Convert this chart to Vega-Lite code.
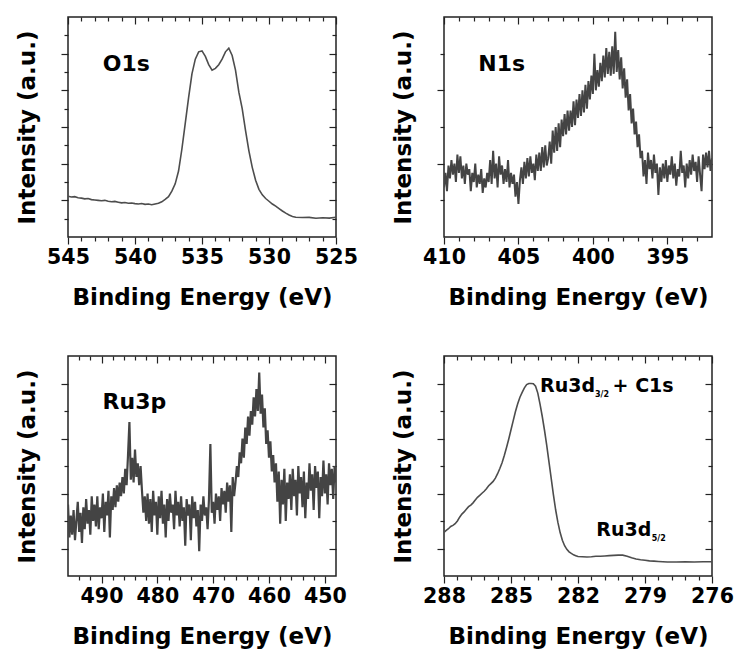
{
"$schema": "https://vega.github.io/schema/vega-lite/v6.json",
"background": "white",
"padding": {"left": 15, "top": 15, "right": 0, "bottom": 5},
"columns": 2,
"spacing": {"row": 119, "column": 108},
"bounds": "flush",
"config": {
  "font": "DejaVu Sans",
  "view": {"stroke": "#222", "strokeWidth": 1.5},
  "axis": {"labelFont": "DejaVu Sans", "labelFontWeight": "bold", "labelFontSize": 20.5, "labelColor": "#000", "labelFlush": false, "labelOverlap": false, "titleFont": "DejaVu Sans", "titleFontWeight": "bold", "titleFontSize": 23, "titleColor": "#000", "grid": false, "domain": false, "tickColor": "#222", "tickWidth": 1.2},
  "line": {"color": "#4d4d4d", "strokeWidth": 1.6},
  "text": {"font": "DejaVu Sans", "fontWeight": "bold", "color": "#000"}
},
"datasets": {
  "o1s": [
    {"e":545,"i":2.22},{"e":544.75,"i":2.18},{"e":544.5,"i":2.2},{"e":544.25,"i":2.14},{"e":544,"i":2.12},{"e":543.75,"i":2.08},{"e":543.5,"i":2.1},{"e":543.25,"i":2.04},{"e":543,"i":2.02},{"e":542.75,"i":2.0},{"e":542.5,"i":1.98},{"e":542.25,"i":2.0},{"e":542,"i":1.95},{"e":541.75,"i":1.92},{"e":541.5,"i":1.94},{"e":541.25,"i":1.9},{"e":541,"i":1.86},{"e":540.75,"i":1.88},{"e":540.5,"i":1.84},{"e":540.25,"i":1.85},{"e":540,"i":1.82},{"e":539.75,"i":1.8},{"e":539.5,"i":1.83},{"e":539.25,"i":1.78},{"e":539,"i":1.8},{"e":538.75,"i":1.76},{"e":538.5,"i":1.8},{"e":538.25,"i":1.84},{"e":538,"i":1.92},{"e":537.75,"i":2.05},{"e":537.5,"i":2.2},{"e":537.25,"i":2.5},{"e":537,"i":2.9},{"e":536.75,"i":3.6},{"e":536.5,"i":4.8},{"e":536.25,"i":6.2},{"e":536,"i":7.6},{"e":535.75,"i":8.9},{"e":535.5,"i":9.7},{"e":535.25,"i":10.1},{"e":535,"i":10.15},{"e":534.75,"i":9.85},{"e":534.5,"i":9.4},{"e":534.25,"i":9.1},{"e":534,"i":9.2},{"e":533.75,"i":9.4},{"e":533.5,"i":9.7},{"e":533.25,"i":10.1},{"e":533,"i":10.3},{"e":532.75,"i":9.9},{"e":532.5,"i":9.1},{"e":532.25,"i":7.9},{"e":532,"i":7.0},{"e":531.75,"i":5.8},{"e":531.5,"i":4.7},{"e":531.25,"i":3.8},{"e":531,"i":3.1},{"e":530.75,"i":2.6},{"e":530.5,"i":2.3},{"e":530.25,"i":2.1},{"e":530,"i":1.95},{"e":529.75,"i":1.8},{"e":529.5,"i":1.68},{"e":529.25,"i":1.55},{"e":529,"i":1.42},{"e":528.75,"i":1.3},{"e":528.5,"i":1.2},{"e":528.25,"i":1.12},{"e":528,"i":1.08},{"e":527.5,"i":1.06},{"e":527,"i":1.07},{"e":526.5,"i":1.02},{"e":526,"i":1.05},{"e":525.5,"i":1.03},{"e":525,"i":1.08}
  ],
  "n1s": [
    {"e":410.0,"i":2.7},{"e":409.9,"i":3.5},{"e":409.8,"i":2.5},{"e":409.7,"i":3.9},{"e":409.6,"i":3.2},{"e":409.5,"i":4.2},{"e":409.4,"i":3.4},{"e":409.3,"i":4.0},{"e":409.2,"i":3.0},{"e":409.1,"i":4.5},
    {"e":409.0,"i":3.5},{"e":408.9,"i":4.4},{"e":408.8,"i":3.2},{"e":408.7,"i":3.9},{"e":408.6,"i":2.9},{"e":408.5,"i":4.0},{"e":408.4,"i":3.4},{"e":408.3,"i":3.7},{"e":408.2,"i":2.5},{"e":408.1,"i":3.5},
    {"e":408.0,"i":3.0},{"e":407.9,"i":4.0},{"e":407.8,"i":2.7},{"e":407.7,"i":3.4},{"e":407.6,"i":2.9},{"e":407.5,"i":3.7},{"e":407.4,"i":2.4},{"e":407.3,"i":3.2},{"e":407.2,"i":2.7},{"e":407.1,"i":3.5},
    {"e":407.0,"i":3.0},{"e":406.9,"i":4.2},{"e":406.8,"i":2.9},{"e":406.7,"i":4.7},{"e":406.6,"i":3.2},{"e":406.5,"i":4.0},{"e":406.4,"i":2.7},{"e":406.3,"i":4.4},{"e":406.2,"i":3.4},{"e":406.1,"i":3.9},
    {"e":406.0,"i":2.9},{"e":405.9,"i":3.7},{"e":405.8,"i":3.0},{"e":405.7,"i":4.2},{"e":405.6,"i":2.7},{"e":405.5,"i":3.5},{"e":405.4,"i":2.9},{"e":405.3,"i":3.4},{"e":405.2,"i":2.2},{"e":405.1,"i":3.0},
    {"e":405.0,"i":1.8},{"e":404.9,"i":3.1},{"e":404.8,"i":3.8},{"e":404.7,"i":2.9},{"e":404.6,"i":4.1},{"e":404.5,"i":3.2},{"e":404.4,"i":4.3},{"e":404.3,"i":3.3},{"e":404.2,"i":4.4},{"e":404.1,"i":3.5},
    {"e":404.0,"i":4.0},{"e":403.9,"i":3.1},{"e":403.8,"i":4.5},{"e":403.7,"i":3.6},{"e":403.6,"i":4.6},{"e":403.5,"i":3.6},{"e":403.4,"i":4.9},{"e":403.3,"i":3.8},{"e":403.2,"i":5.0},{"e":403.1,"i":3.9},
    {"e":403.0,"i":4.3},{"e":402.9,"i":5.2},{"e":402.8,"i":4.0},{"e":402.7,"i":5.8},{"e":402.6,"i":4.6},{"e":402.5,"i":6.0},{"e":402.4,"i":4.7},{"e":402.3,"i":6.2},{"e":402.2,"i":4.9},{"e":402.1,"i":6.4},
    {"e":402.0,"i":5.5},{"e":401.9,"i":6.7},{"e":401.8,"i":5.6},{"e":401.7,"i":6.9},{"e":401.6,"i":5.8},{"e":401.5,"i":6.9},{"e":401.4,"i":6.0},{"e":401.3,"i":7.4},{"e":401.2,"i":6.1},{"e":401.1,"i":7.5},
    {"e":401.0,"i":6.5},{"e":400.9,"i":7.8},{"e":400.8,"i":6.6},{"e":400.7,"i":8.0},{"e":400.6,"i":6.8},{"e":400.5,"i":8.3},{"e":400.4,"i":7.0},{"e":400.3,"i":8.5},{"e":400.2,"i":7.5},{"e":400.1,"i":8.8},
    {"e":400.0,"i":7.8},{"e":399.9,"i":10.0},{"e":399.8,"i":8.0},{"e":399.7,"i":9.1},{"e":399.6,"i":8.2},{"e":399.5,"i":9.5},{"e":399.4,"i":8.5},{"e":399.3,"i":9.9},{"e":399.2,"i":8.7},{"e":399.1,"i":10.3},
    {"e":399.0,"i":8.9},{"e":398.9,"i":10.1},{"e":398.8,"i":8.8},{"e":398.7,"i":10.4},{"e":398.6,"i":8.9},{"e":398.5,"i":11.2},{"e":398.4,"i":9.0},{"e":398.3,"i":10.2},{"e":398.2,"i":8.6},{"e":398.1,"i":9.8},
    {"e":398.0,"i":8.1},{"e":397.9,"i":9.2},{"e":397.8,"i":7.6},{"e":397.7,"i":8.6},{"e":397.6,"i":6.9},{"e":397.5,"i":7.8},{"e":397.4,"i":6.2},{"e":397.3,"i":7.0},{"e":397.2,"i":5.6},{"e":397.1,"i":6.3},
    {"e":397.0,"i":4.9},{"e":396.9,"i":5.6},{"e":396.8,"i":4.3},{"e":396.7,"i":4.7},{"e":396.6,"i":3.3},{"e":396.5,"i":4.2},{"e":396.4,"i":2.9},{"e":396.3,"i":4.6},{"e":396.2,"i":3.7},{"e":396.1,"i":4.2},
    {"e":396.0,"i":3.2},{"e":395.9,"i":4.5},{"e":395.8,"i":3.5},{"e":395.7,"i":4.0},{"e":395.6,"i":2.3},{"e":395.5,"i":3.8},{"e":395.4,"i":3.0},{"e":395.3,"i":4.0},{"e":395.2,"i":3.2},{"e":395.1,"i":4.2},
    {"e":395.0,"i":3.0},{"e":394.9,"i":3.9},{"e":394.8,"i":3.4},{"e":394.7,"i":4.4},{"e":394.6,"i":3.2},{"e":394.5,"i":4.0},{"e":394.4,"i":2.8},{"e":394.3,"i":3.7},{"e":394.2,"i":3.3},{"e":394.1,"i":4.7},
    {"e":394.0,"i":3.5},{"e":393.9,"i":3.9},{"e":393.8,"i":2.7},{"e":393.7,"i":4.0},{"e":393.6,"i":3.2},{"e":393.5,"i":4.2},{"e":393.4,"i":3.4},{"e":393.3,"i":4.5},{"e":393.2,"i":3.6},{"e":393.1,"i":4.1},
    {"e":393.0,"i":3.0},{"e":392.9,"i":4.4},{"e":392.8,"i":3.4},{"e":392.7,"i":2.5},{"e":392.6,"i":4.5},{"e":392.5,"i":3.7},{"e":392.4,"i":4.6},{"e":392.3,"i":3.8},{"e":392.2,"i":4.7},{"e":392.1,"i":3.6},
    {"e":392.0,"i":4.3}
  ],
  "ru3p": [
    {"e":496.00,"i":2.6},{"e":495.75,"i":1.4},{"e":495.50,"i":2.2},{"e":495.25,"i":1.5},{"e":495.00,"i":2.4},{"e":494.75,"i":1.3},{"e":494.50,"i":2.0},{"e":494.25,"i":2.7},
    {"e":494.00,"i":1.6},{"e":493.75,"i":2.3},{"e":493.50,"i":1.2},{"e":493.25,"i":2.5},{"e":493.00,"i":1.7},{"e":492.75,"i":2.8},{"e":492.50,"i":1.9},{"e":492.25,"i":2.4},
    {"e":492.00,"i":1.5},{"e":491.75,"i":2.9},{"e":491.50,"i":2.0},{"e":491.25,"i":2.6},{"e":491.00,"i":1.8},{"e":490.75,"i":2.9},{"e":490.50,"i":1.7},{"e":490.25,"i":2.5},
    {"e":490.00,"i":2.1},{"e":489.75,"i":3.0},{"e":489.50,"i":1.6},{"e":489.25,"i":2.7},{"e":489.00,"i":2.2},{"e":488.75,"i":3.1},{"e":488.50,"i":1.4},{"e":488.25,"i":2.9},
    {"e":488.00,"i":2.4},{"e":487.75,"i":3.2},{"e":487.50,"i":2.5},{"e":487.25,"i":3.3},{"e":487.00,"i":2.7},{"e":486.75,"i":3.4},{"e":486.50,"i":2.9},{"e":486.25,"i":3.6},
    {"e":486.00,"i":3.0},{"e":485.75,"i":3.9},{"e":485.50,"i":3.3},{"e":485.25,"i":4.4},{"e":485.00,"i":5.6},{"e":484.75,"i":3.5},{"e":484.50,"i":4.3},{"e":484.25,"i":3.4},
    {"e":484.00,"i":4.6},{"e":483.75,"i":3.6},{"e":483.50,"i":4.1},{"e":483.25,"i":3.3},{"e":483.00,"i":4.0},{"e":482.75,"i":3.1},{"e":482.50,"i":2.3},{"e":482.25,"i":2.9},
    {"e":482.00,"i":2.0},{"e":481.75,"i":3.0},{"e":481.50,"i":1.9},{"e":481.25,"i":2.8},{"e":481.00,"i":1.6},{"e":480.75,"i":3.1},{"e":480.50,"i":2.2},{"e":480.25,"i":2.7},
    {"e":480.00,"i":1.5},{"e":479.75,"i":2.9},{"e":479.50,"i":2.1},{"e":479.25,"i":3.1},{"e":479.00,"i":1.9},{"e":478.75,"i":2.6},{"e":478.50,"i":1.4},{"e":478.25,"i":2.8},
    {"e":478.00,"i":2.0},{"e":477.75,"i":3.0},{"e":477.50,"i":2.3},{"e":477.25,"i":2.6},{"e":477.00,"i":1.7},{"e":476.75,"i":3.1},{"e":476.50,"i":2.2},{"e":476.25,"i":2.7},
    {"e":476.00,"i":1.8},{"e":475.75,"i":2.9},{"e":475.50,"i":2.0},{"e":475.25,"i":2.5},{"e":475.00,"i":1.1},{"e":474.75,"i":2.8},{"e":474.50,"i":2.2},{"e":474.25,"i":2.6},
    {"e":474.00,"i":1.3},{"e":473.75,"i":2.9},{"e":473.50,"i":2.1},{"e":473.25,"i":2.7},{"e":473.00,"i":1.8},{"e":472.75,"i":2.4},{"e":472.50,"i":0.9},{"e":472.25,"i":2.6},
    {"e":472.00,"i":2.0},{"e":471.75,"i":2.9},{"e":471.50,"i":2.2},{"e":471.25,"i":2.5},{"e":471.00,"i":1.7},{"e":470.75,"i":2.8},{"e":470.50,"i":4.8},{"e":470.25,"i":2.3},
    {"e":470.00,"i":2.7},{"e":469.75,"i":1.9},{"e":469.50,"i":3.0},{"e":469.25,"i":2.4},{"e":469.00,"i":2.9},{"e":468.75,"i":2.0},{"e":468.50,"i":3.2},{"e":468.25,"i":2.6},
    {"e":468.00,"i":3.1},{"e":467.75,"i":2.3},{"e":467.50,"i":3.4},{"e":467.25,"i":2.7},{"e":467.00,"i":3.3},{"e":466.75,"i":1.6},{"e":466.50,"i":3.6},{"e":466.25,"i":2.9},
    {"e":466.00,"i":3.4},{"e":465.75,"i":4.0},{"e":465.50,"i":3.6},{"e":465.25,"i":4.5},{"e":465.00,"i":4.1},{"e":464.75,"i":5.0},{"e":464.50,"i":4.3},{"e":464.25,"i":5.4},
    {"e":464.00,"i":4.8},{"e":463.75,"i":5.8},{"e":463.50,"i":5.1},{"e":463.25,"i":6.0},{"e":463.00,"i":5.5},{"e":462.75,"i":6.5},{"e":462.50,"i":5.8},{"e":462.25,"i":6.8},
    {"e":462.00,"i":6.0},{"e":461.75,"i":7.4},{"e":461.50,"i":5.9},{"e":461.25,"i":6.6},{"e":461.00,"i":5.4},{"e":460.75,"i":6.1},{"e":460.50,"i":4.8},{"e":460.25,"i":5.3},
    {"e":460.00,"i":4.3},{"e":459.75,"i":4.9},{"e":459.50,"i":3.8},{"e":459.25,"i":4.4},{"e":459.00,"i":3.4},{"e":458.75,"i":4.1},{"e":458.50,"i":2.7},{"e":458.25,"i":3.8},
    {"e":458.00,"i":1.9},{"e":457.75,"i":3.5},{"e":457.50,"i":2.6},{"e":457.25,"i":3.9},{"e":457.00,"i":2.0},{"e":456.75,"i":3.4},{"e":456.50,"i":2.8},{"e":456.25,"i":3.7},
    {"e":456.00,"i":2.4},{"e":455.75,"i":3.9},{"e":455.50,"i":2.9},{"e":455.25,"i":3.5},{"e":455.00,"i":2.2},{"e":454.75,"i":4.0},{"e":454.50,"i":3.0},{"e":454.25,"i":3.6},
    {"e":454.00,"i":2.5},{"e":453.75,"i":3.8},{"e":453.50,"i":2.1},{"e":453.25,"i":3.4},{"e":453.00,"i":2.8},{"e":452.75,"i":4.1},{"e":452.50,"i":3.1},{"e":452.25,"i":3.7},
    {"e":452.00,"i":2.4},{"e":451.75,"i":4.0},{"e":451.50,"i":3.2},{"e":451.25,"i":3.8},{"e":451.00,"i":2.1},{"e":450.75,"i":3.6},{"e":450.50,"i":2.9},{"e":450.25,"i":4.2},
    {"e":450.00,"i":3.0},{"e":449.75,"i":3.7},{"e":449.50,"i":2.6},{"e":449.25,"i":4.1},{"e":449.00,"i":3.3},{"e":448.75,"i":3.9},{"e":448.50,"i":2.8},{"e":448.25,"i":4.0},
    {"e":448.00,"i":3.4}
  ],
  "ru3d": [
    {"e":288.0,"i":1.59},{"e":287.9,"i":1.66},{"e":287.8,"i":1.72},{"e":287.7,"i":1.80},{"e":287.6,"i":1.84},{"e":287.5,"i":1.90},{"e":287.4,"i":2.00},{"e":287.3,"i":2.14},{"e":287.2,"i":2.25},{"e":287.1,"i":2.33},
    {"e":287.0,"i":2.43},{"e":286.9,"i":2.52},{"e":286.8,"i":2.58},{"e":286.7,"i":2.66},{"e":286.6,"i":2.76},{"e":286.5,"i":2.86},{"e":286.4,"i":2.93},{"e":286.3,"i":3.01},{"e":286.2,"i":3.08},{"e":286.1,"i":3.17},
    {"e":286.0,"i":3.28},{"e":285.9,"i":3.36},{"e":285.8,"i":3.44},{"e":285.7,"i":3.56},{"e":285.6,"i":3.72},{"e":285.5,"i":3.91},{"e":285.4,"i":4.12},{"e":285.3,"i":4.38},{"e":285.2,"i":4.67},{"e":285.1,"i":4.98},
    {"e":285.0,"i":5.32},{"e":284.9,"i":5.65},{"e":284.8,"i":5.98},{"e":284.7,"i":6.26},{"e":284.6,"i":6.50},{"e":284.5,"i":6.68},{"e":284.4,"i":6.84},{"e":284.3,"i":6.96},{"e":284.2,"i":7.00},{"e":284.1,"i":7.00},
    {"e":284.0,"i":6.99},{"e":283.9,"i":6.90},{"e":283.8,"i":6.65},{"e":283.7,"i":6.25},{"e":283.6,"i":5.80},{"e":283.5,"i":5.30},{"e":283.4,"i":4.75},{"e":283.3,"i":4.15},{"e":283.2,"i":3.55},{"e":283.1,"i":2.95},
    {"e":283.0,"i":2.40},{"e":282.9,"i":1.95},{"e":282.8,"i":1.58},{"e":282.7,"i":1.30},{"e":282.6,"i":1.10},{"e":282.5,"i":0.97},{"e":282.4,"i":0.88},{"e":282.3,"i":0.82},{"e":282.2,"i":0.77},{"e":282.1,"i":0.74},
    {"e":282.0,"i":0.71},{"e":281.8,"i":0.70},{"e":281.6,"i":0.69},{"e":281.4,"i":0.70},{"e":281.2,"i":0.72},{"e":281.0,"i":0.72},{"e":280.8,"i":0.73},{"e":280.6,"i":0.74},{"e":280.4,"i":0.75},{"e":280.2,"i":0.76},
    {"e":280.0,"i":0.76},{"e":279.8,"i":0.72},{"e":279.6,"i":0.66},{"e":279.4,"i":0.62},{"e":279.2,"i":0.59},{"e":279.0,"i":0.57},{"e":278.8,"i":0.55},{"e":278.6,"i":0.54},{"e":278.4,"i":0.53},{"e":278.2,"i":0.52},
    {"e":278.0,"i":0.51},{"e":277.6,"i":0.51},{"e":277.2,"i":0.52},{"e":276.8,"i":0.51},{"e":276.4,"i":0.52},{"e":276.0,"i":0.52}
  ]
},
"concat": [
  {
    "width": 268, "height": 220,
    "data": {"name": "o1s"},
    "layer": [
      {"mark": {"type": "line", "clip": true}, "encoding": {
        "x": {"field": "e", "type": "quantitative", "scale": {"domain": [525, 545], "reverse": true, "nice": false, "zero": false}, "axis": {"orient": "bottom", "values": [545, 540, 535, 530, 525], "tickSize": 7, "labelPadding": 3, "title": "Binding Energy (eV)", "titlePadding": 19}},
        "y": {"field": "i", "type": "quantitative", "scale": {"domain": [0, 12], "nice": false, "zero": false}, "axis": {"orient": "left", "values": [2, 4, 6, 8, 10], "tickSize": 7, "labels": false, "title": "Intensity (a.u.)", "titlePadding": 21}}}},
      {"mark": {"type": "line", "opacity": 0}, "encoding": {
        "x": {"field": "e", "type": "quantitative", "scale": {"domain": [525, 545], "reverse": true, "nice": false, "zero": false}, "axis": {"orient": "bottom", "values": [544, 543, 542, 541, 539, 538, 537, 536, 534, 533, 532, 531, 529, 528, 527, 526], "tickSize": 4, "labels": false, "title": null}},
        "y": {"field": "i", "type": "quantitative", "scale": {"domain": [0, 12], "nice": false, "zero": false}, "axis": {"orient": "left", "values": [1, 3, 5, 7, 9, 11], "tickSize": 4, "labels": false, "title": null}}}},
      {"mark": {"type": "line", "opacity": 0}, "encoding": {
        "x": {"field": "e", "type": "quantitative", "scale": {"domain": [525, 545], "reverse": true, "nice": false, "zero": false}, "axis": {"orient": "top", "values": [545, 540, 535, 530, 525], "tickSize": -7, "labels": false, "title": null}},
        "y": {"field": "i", "type": "quantitative", "scale": {"domain": [0, 12], "nice": false, "zero": false}, "axis": {"orient": "right", "values": [2, 4, 6, 8, 10], "tickSize": -7, "labels": false, "title": null}}}},
      {"mark": {"type": "line", "opacity": 0}, "encoding": {
        "x": {"field": "e", "type": "quantitative", "scale": {"domain": [525, 545], "reverse": true, "nice": false, "zero": false}, "axis": {"orient": "top", "values": [544, 543, 542, 541, 539, 538, 537, 536, 534, 533, 532, 531, 529, 528, 527, 526], "tickSize": -4, "labels": false, "title": null}},
        "y": {"field": "i", "type": "quantitative", "scale": {"domain": [0, 12], "nice": false, "zero": false}, "axis": {"orient": "right", "values": [1, 3, 5, 7, 9, 11], "tickSize": -4, "labels": false, "title": null}}}},
      {"data": {"values": [{"t": "O1s", "e": 542.4, "i": 9.45}]}, "mark": {"type": "text", "align": "left", "baseline": "middle", "fontSize": 22},
       "encoding": {"x": {"field": "e", "type": "quantitative", "axis": null}, "y": {"field": "i", "type": "quantitative", "axis": null}, "text": {"field": "t"}}}
    ],
    "resolve": {"axis": {"x": "independent", "y": "independent"}}
  },
  {
    "width": 268, "height": 220,
    "data": {"name": "n1s"},
    "layer": [
      {"mark": {"type": "line", "clip": true, "strokeWidth": 2, "color": "#444"}, "encoding": {
        "x": {"field": "e", "type": "quantitative", "scale": {"domain": [392, 410], "reverse": true, "nice": false, "zero": false}, "axis": {"orient": "bottom", "values": [410, 405, 400, 395], "tickSize": 7, "labelPadding": 3, "title": "Binding Energy (eV)", "titlePadding": 19}},
        "y": {"field": "i", "type": "quantitative", "scale": {"domain": [0, 12], "nice": false, "zero": false}, "axis": {"orient": "left", "values": [4, 8], "tickSize": 7, "labels": false, "title": "Intensity (a.u.)", "titlePadding": 21}}}},
      {"mark": {"type": "line", "opacity": 0}, "encoding": {
        "x": {"field": "e", "type": "quantitative", "scale": {"domain": [392, 410], "reverse": true, "nice": false, "zero": false}, "axis": {"orient": "bottom", "values": [409, 408, 407, 406, 404, 403, 402, 401, 399, 398, 397, 396, 394, 393], "tickSize": 4, "labels": false, "title": null}},
        "y": {"field": "i", "type": "quantitative", "scale": {"domain": [0, 12], "nice": false, "zero": false}, "axis": {"orient": "left", "values": [2, 6, 10], "tickSize": 4, "labels": false, "title": null}}}},
      {"mark": {"type": "line", "opacity": 0}, "encoding": {
        "x": {"field": "e", "type": "quantitative", "scale": {"domain": [392, 410], "reverse": true, "nice": false, "zero": false}, "axis": {"orient": "top", "values": [410, 405, 400, 395], "tickSize": -7, "labels": false, "title": null}},
        "y": {"field": "i", "type": "quantitative", "scale": {"domain": [0, 12], "nice": false, "zero": false}, "axis": {"orient": "right", "values": [4, 8], "tickSize": -7, "labels": false, "title": null}}}},
      {"mark": {"type": "line", "opacity": 0}, "encoding": {
        "x": {"field": "e", "type": "quantitative", "scale": {"domain": [392, 410], "reverse": true, "nice": false, "zero": false}, "axis": {"orient": "top", "values": [409, 408, 407, 406, 404, 403, 402, 401, 399, 398, 397, 396, 394, 393], "tickSize": -4, "labels": false, "title": null}},
        "y": {"field": "i", "type": "quantitative", "scale": {"domain": [0, 12], "nice": false, "zero": false}, "axis": {"orient": "right", "values": [2, 6, 10], "tickSize": -4, "labels": false, "title": null}}}},
      {"data": {"values": [{"t": "N1s", "e": 407.7, "i": 9.45}]}, "mark": {"type": "text", "align": "left", "baseline": "middle", "fontSize": 22},
       "encoding": {"x": {"field": "e", "type": "quantitative", "axis": null}, "y": {"field": "i", "type": "quantitative", "axis": null}, "text": {"field": "t"}}}
    ],
    "resolve": {"axis": {"x": "independent", "y": "independent"}}
  },
  {
    "width": 268, "height": 220,
    "data": {"name": "ru3p"},
    "layer": [
      {"mark": {"type": "line", "clip": true, "strokeWidth": 2.2, "color": "#444"}, "encoding": {
        "x": {"field": "e", "type": "quantitative", "scale": {"domain": [448, 496], "reverse": true, "nice": false, "zero": false}, "axis": {"orient": "bottom", "values": [490, 480, 470, 460, 450], "tickSize": 7, "labelPadding": 3, "title": "Binding Energy (eV)", "titlePadding": 19}},
        "y": {"field": "i", "type": "quantitative", "scale": {"domain": [0, 8], "nice": false, "zero": false}, "axis": {"orient": "left", "values": [1, 3, 5, 7], "tickSize": 7, "labels": false, "title": "Intensity (a.u.)", "titlePadding": 21}}}},
      {"mark": {"type": "line", "opacity": 0}, "encoding": {
        "x": {"field": "e", "type": "quantitative", "scale": {"domain": [448, 496], "reverse": true, "nice": false, "zero": false}, "axis": {"orient": "bottom", "values": [494, 492, 488, 486, 484, 482, 478, 476, 474, 472, 468, 466, 464, 462, 458, 456, 454, 452], "tickSize": 4, "labels": false, "title": null}},
        "y": {"field": "i", "type": "quantitative", "scale": {"domain": [0, 8], "nice": false, "zero": false}, "axis": {"orient": "left", "values": [2, 4, 6], "tickSize": 4, "labels": false, "title": null}}}},
      {"mark": {"type": "line", "opacity": 0}, "encoding": {
        "x": {"field": "e", "type": "quantitative", "scale": {"domain": [448, 496], "reverse": true, "nice": false, "zero": false}, "axis": {"orient": "top", "values": [490, 480, 470, 460, 450], "tickSize": -7, "labels": false, "title": null}},
        "y": {"field": "i", "type": "quantitative", "scale": {"domain": [0, 8], "nice": false, "zero": false}, "axis": {"orient": "right", "values": [1, 3, 5, 7], "tickSize": -7, "labels": false, "title": null}}}},
      {"mark": {"type": "line", "opacity": 0}, "encoding": {
        "x": {"field": "e", "type": "quantitative", "scale": {"domain": [448, 496], "reverse": true, "nice": false, "zero": false}, "axis": {"orient": "top", "values": [494, 492, 488, 486, 484, 482, 478, 476, 474, 472, 468, 466, 464, 462, 458, 456, 454, 452], "tickSize": -4, "labels": false, "title": null}},
        "y": {"field": "i", "type": "quantitative", "scale": {"domain": [0, 8], "nice": false, "zero": false}, "axis": {"orient": "right", "values": [2, 4, 6], "tickSize": -4, "labels": false, "title": null}}}},
      {"data": {"values": [{"t": "Ru3p", "e": 489.8, "i": 6.32}]}, "mark": {"type": "text", "align": "left", "baseline": "middle", "fontSize": 22},
       "encoding": {"x": {"field": "e", "type": "quantitative", "axis": null}, "y": {"field": "i", "type": "quantitative", "axis": null}, "text": {"field": "t"}}}
    ],
    "resolve": {"axis": {"x": "independent", "y": "independent"}}
  },
  {
    "width": 268, "height": 220,
    "data": {"name": "ru3d"},
    "layer": [
      {"mark": {"type": "line", "clip": true}, "encoding": {
        "x": {"field": "e", "type": "quantitative", "scale": {"domain": [276, 288], "reverse": true, "nice": false, "zero": false}, "axis": {"orient": "bottom", "values": [288, 285, 282, 279, 276], "tickSize": 7, "labelPadding": 3, "title": "Binding Energy (eV)", "titlePadding": 19}},
        "y": {"field": "i", "type": "quantitative", "scale": {"domain": [0, 8], "nice": false, "zero": false}, "axis": {"orient": "left", "values": [1, 3, 5, 7], "tickSize": 7, "labels": false, "title": "Intensity (a.u.)", "titlePadding": 21}}}},
      {"mark": {"type": "line", "opacity": 0}, "encoding": {
        "x": {"field": "e", "type": "quantitative", "scale": {"domain": [276, 288], "reverse": true, "nice": false, "zero": false}, "axis": {"orient": "bottom", "values": [287.4, 286.8, 286.2, 285.6, 284.4, 283.8, 283.2, 282.6, 281.4, 280.8, 280.2, 279.6, 278.4, 277.8, 277.2, 276.6], "tickSize": 4, "labels": false, "title": null}},
        "y": {"field": "i", "type": "quantitative", "scale": {"domain": [0, 8], "nice": false, "zero": false}, "axis": {"orient": "left", "values": [2, 4, 6], "tickSize": 4, "labels": false, "title": null}}}},
      {"mark": {"type": "line", "opacity": 0}, "encoding": {
        "x": {"field": "e", "type": "quantitative", "scale": {"domain": [276, 288], "reverse": true, "nice": false, "zero": false}, "axis": {"orient": "top", "values": [288, 285, 282, 279, 276], "tickSize": -7, "labels": false, "title": null}},
        "y": {"field": "i", "type": "quantitative", "scale": {"domain": [0, 8], "nice": false, "zero": false}, "axis": {"orient": "right", "values": [1, 3, 5, 7], "tickSize": -7, "labels": false, "title": null}}}},
      {"mark": {"type": "line", "opacity": 0}, "encoding": {
        "x": {"field": "e", "type": "quantitative", "scale": {"domain": [276, 288], "reverse": true, "nice": false, "zero": false}, "axis": {"orient": "top", "values": [287.4, 286.8, 286.2, 285.6, 284.4, 283.8, 283.2, 282.6, 281.4, 280.8, 280.2, 279.6, 278.4, 277.8, 277.2, 276.6], "tickSize": -4, "labels": false, "title": null}},
        "y": {"field": "i", "type": "quantitative", "scale": {"domain": [0, 8], "nice": false, "zero": false}, "axis": {"orient": "right", "values": [2, 4, 6], "tickSize": -4, "labels": false, "title": null}}}},
      {"data": {"values": [{"t": "Ru3d", "e": 283.7, "i": 6.9}, {"t": "+ C1s", "e": 280.45, "i": 6.9}, {"t": "Ru3d", "e": 281.18, "i": 1.66}]}, "mark": {"type": "text", "align": "left", "baseline": "middle", "fontSize": 19},
       "encoding": {"x": {"field": "e", "type": "quantitative", "axis": null}, "y": {"field": "i", "type": "quantitative", "axis": null}, "text": {"field": "t"}}},
      {"data": {"values": [{"t": "3/2", "e": 281.24, "i": 6.6}, {"t": "5/2", "e": 278.7, "i": 1.35}]}, "mark": {"type": "text", "align": "left", "baseline": "middle", "fontSize": 8},
       "encoding": {"x": {"field": "e", "type": "quantitative", "axis": null}, "y": {"field": "i", "type": "quantitative", "axis": null}, "text": {"field": "t"}}}
    ],
    "resolve": {"axis": {"x": "independent", "y": "independent"}}
  }
]
}
